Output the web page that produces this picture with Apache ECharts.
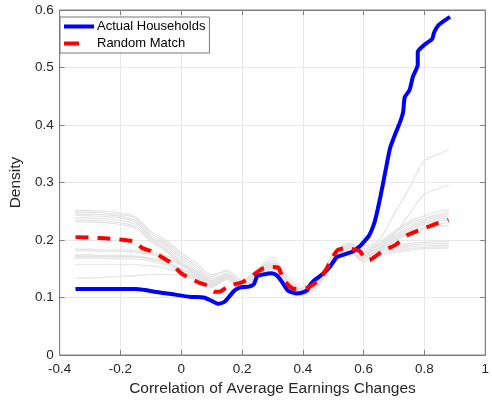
<!DOCTYPE html>
<html>
<head>
<meta charset="utf-8">
<script src="https://cdn.jsdelivr.net/npm/echarts@6/dist/echarts.min.js"></script>
<style>html,body{margin:0;padding:0;background:#fff;}#c{width:492px;height:403px;}</style>
</head>
<body>
<div id="c"></div>
<script>
const xTicks = [-0.4, -0.2, 0, 0.2, 0.4, 0.6, 0.8, 1];
const yTicks = [0, 0.1, 0.2, 0.3, 0.4, 0.5, 0.6];

const actualHouseholds = [[-0.348,0.115],[-0.25,0.115],[-0.15,0.115],[-0.12,0.113],[-0.086,0.110],[-0.033,0.106],[0.031,0.101],[0.074,0.100],[0.100,0.094],[0.122,0.089],[0.143,0.093],[0.160,0.103],[0.175,0.112],[0.191,0.117],[0.223,0.119],[0.239,0.123],[0.250,0.137],[0.270,0.140],[0.298,0.142],[0.315,0.138],[0.330,0.128],[0.351,0.112],[0.378,0.107],[0.400,0.109],[0.415,0.113],[0.420,0.119],[0.436,0.129],[0.468,0.142],[0.490,0.154],[0.511,0.170],[0.532,0.174],[0.564,0.180],[0.591,0.191],[0.606,0.200],[0.618,0.208],[0.630,0.222],[0.639,0.237],[0.655,0.275],[0.671,0.318],[0.687,0.360],[0.703,0.383],[0.719,0.404],[0.730,0.423],[0.735,0.448],[0.751,0.461],[0.762,0.484],[0.778,0.505],[0.778,0.527],[0.799,0.539],[0.826,0.550],[0.831,0.560],[0.847,0.574],[0.884,0.588]];

const randomMatch = [[-0.348,0.205],[-0.25,0.203],[-0.204,0.201],[-0.150,0.197],[-0.129,0.186],[-0.100,0.181],[-0.076,0.174],[-0.038,0.162],[0.000,0.142],[0.031,0.133],[0.063,0.125],[0.084,0.121],[0.111,0.110],[0.125,0.110],[0.150,0.118],[0.170,0.122],[0.202,0.127],[0.230,0.136],[0.244,0.142],[0.271,0.151],[0.300,0.153],[0.319,0.152],[0.335,0.133],[0.355,0.120],[0.372,0.115],[0.415,0.117],[0.440,0.125],[0.458,0.133],[0.479,0.151],[0.500,0.172],[0.516,0.183],[0.543,0.186],[0.586,0.181],[0.600,0.172],[0.618,0.165],[0.640,0.172],[0.660,0.180],[0.703,0.191],[0.746,0.209],[0.788,0.218],[0.842,0.229],[0.879,0.235]];

const grayX = [-0.35,-0.3,-0.25,-0.2,-0.15,-0.1,-0.05,0,0.05,0.1,0.15,0.2,0.25,0.3,0.35,0.4,0.45,0.5,0.55,0.6,0.65,0.7,0.75,0.8,0.85,0.88];
const grayA1 = [0.252,0.251,0.250,0.247,0.240,0.215,0.200,0.178,0.160,0.140,0.145,0.130,0.150,0.170,0.135,0.118,0.135,0.175,0.195,0.185,0.195,0.215,0.232,0.242,0.250,0.252];
const grayA2 = [0.249,0.248,0.247,0.244,0.238,0.212,0.196,0.174,0.155,0.136,0.148,0.128,0.148,0.165,0.130,0.115,0.132,0.172,0.192,0.182,0.192,0.212,0.228,0.238,0.245,0.248];
const grayA3 = [0.246,0.245,0.244,0.241,0.234,0.208,0.193,0.170,0.152,0.133,0.142,0.125,0.145,0.160,0.128,0.112,0.128,0.168,0.190,0.180,0.190,0.208,0.224,0.235,0.242,0.245];
const grayA4 = [0.243,0.242,0.241,0.238,0.231,0.205,0.190,0.166,0.148,0.130,0.140,0.122,0.142,0.158,0.125,0.110,0.126,0.165,0.187,0.177,0.187,0.205,0.221,0.232,0.239,0.242];
const grayA5 = [0.239,0.238,0.237,0.234,0.227,0.203,0.186,0.162,0.145,0.128,0.137,0.120,0.140,0.156,0.122,0.108,0.124,0.162,0.185,0.175,0.185,0.203,0.218,0.229,0.236,0.238];
const grayA6 = [0.235,0.234,0.233,0.230,0.223,0.200,0.183,0.159,0.142,0.126,0.134,0.118,0.138,0.152,0.120,0.106,0.122,0.160,0.183,0.172,0.182,0.200,0.215,0.226,0.233,0.235];
const grayA7 = [0.232,0.231,0.230,0.227,0.220,0.197,0.180,0.156,0.140,0.124,0.132,0.116,0.136,0.150,0.118,0.104,0.120,0.158,0.180,0.170,0.180,0.197,0.212,0.222,0.228,0.230];
const grayB1 = [0.184,0.184,0.183,0.183,0.182,0.178,0.172,0.160,0.145,0.128,0.140,0.124,0.146,0.162,0.128,0.114,0.130,0.170,0.192,0.176,0.185,0.190,0.194,0.196,0.197,0.197];
const grayB2 = [0.181,0.181,0.180,0.180,0.179,0.175,0.168,0.156,0.142,0.125,0.138,0.121,0.143,0.158,0.125,0.111,0.128,0.167,0.189,0.172,0.182,0.187,0.191,0.193,0.194,0.194];
const grayB3 = [0.174,0.174,0.173,0.173,0.172,0.168,0.162,0.150,0.138,0.122,0.135,0.119,0.140,0.156,0.122,0.109,0.126,0.165,0.186,0.168,0.179,0.184,0.188,0.190,0.191,0.191];
const grayB4 = [0.171,0.171,0.171,0.170,0.170,0.166,0.160,0.147,0.135,0.120,0.133,0.117,0.138,0.153,0.120,0.107,0.124,0.162,0.183,0.165,0.176,0.181,0.185,0.187,0.188,0.188];
const grayB5 = [0.168,0.168,0.168,0.167,0.167,0.163,0.157,0.145,0.133,0.118,0.131,0.115,0.136,0.150,0.118,0.105,0.122,0.160,0.180,0.162,0.173,0.178,0.182,0.185,0.186,0.186];
const grayH1 = [0.172,0.172,0.172,0.171,0.171,0.167,0.161,0.149,0.137,0.121,0.136,0.120,0.141,0.158,0.124,0.110,0.128,0.170,0.192,0.190,0.200,0.245,0.290,0.338,0.350,0.357];
const grayH2 = [0.157,0.157,0.157,0.157,0.157,0.155,0.151,0.142,0.132,0.118,0.134,0.118,0.140,0.156,0.122,0.108,0.126,0.166,0.188,0.180,0.185,0.210,0.245,0.280,0.290,0.296];
const grayC1 = [0.133,0.134,0.135,0.137,0.138,0.140,0.140,0.138,0.130,0.118,0.132,0.116,0.138,0.155,0.120,0.106,0.124,0.163,0.185,0.170,0.180,0.198,0.212,0.220,0.224,0.225];

const grayLines = [grayA1,grayA2,grayA3,grayA4,grayA5,grayA6,grayA7,grayB1,grayB2,grayB3,grayB4,grayB5,grayH1,grayH2,grayC1];

const font = '"Liberation Sans", Arial, Helvetica, sans-serif';
const chart = echarts.init(document.getElementById('c'), null, {renderer: 'canvas'});

const series = grayLines.map((ys, i) => ({
  name: 'sim' + i,
  type: 'line',
  xAxisIndex: 0, yAxisIndex: 0,
  data: grayX.map((x, j) => [x, ys[j]]),
  showSymbol: false, symbol: 'none',
  smooth: 0.3,
  silent: true,
  lineStyle: {color: '#e3e3e3', width: 1.2},
  z: 2
}));
series.push({
  name: 'Actual Households', type: 'line', data: actualHouseholds,
  symbol: 'none', smooth: 0.2,
  lineStyle: {color: '#0000ff', width: 4}, itemStyle: {color: '#0000ff'}, z: 3
});
series.push({
  name: 'Random Match', type: 'line', data: randomMatch,
  symbol: 'none', smooth: 0.2,
  lineStyle: {color: '#ff0000', width: 4, type: [13, 9]}, itemStyle: {color: '#ff0000'}, z: 4
});

const axisCol = '#808080';
chart.setOption({
  animation: false,
  backgroundColor: '#fff',
  grid: {left: 52, right: 3, top: 10, bottom: 48, show: true, borderColor: axisCol, borderWidth: 1},
  legend: {
    data: [
      {name: 'Actual Households', icon: 'path://M0,0L30,0L30,4L0,4Z', itemStyle: {color: '#0000ff'}},
      {name: 'Random Match', icon: 'path://M0,0L15,0L15,4L0,4Z M30,0L30,4', itemStyle: {color: '#ff0000'}}
    ],
    orient: 'vertical', left: 60, top: 17,
    itemWidth: 30, itemHeight: 4, itemGap: 4,
    padding: [3, 4, 3, 4],
    backgroundColor: '#fff', borderColor: '#777', borderWidth: 1, borderRadius: 0,
    textStyle: {fontFamily: font, fontSize: 13, color: '#000', padding: [0, 0, 0, -2], lineHeight: 11},
    selectedMode: false
  },
  xAxis: [{
    type: 'value', min: -0.4, max: 1, interval: 0.2,
    name: 'Correlation of Average Earnings Changes', nameLocation: 'middle', nameGap: 21,
    nameTextStyle: {fontFamily: font, fontSize: 15.5, color: '#262626'},
    axisLine: {show: true, lineStyle: {color: axisCol}},
    axisTick: {show: true, inside: true, length: 5, lineStyle: {color: axisCol}},
    axisLabel: {fontFamily: font, fontSize: 13.5, color: '#262626', margin: 7,
      formatter: v => { const t = xTicks.find(k => Math.abs(k - v) < 1e-9); return t === undefined ? '' : String(t); }},
    splitLine: {show: true, lineStyle: {color: '#e8e8e8'}}
  }, {
    type: 'value', min: -0.4, max: 1, interval: 0.2, position: 'top',
    axisLine: {show: true, onZero: false, lineStyle: {color: axisCol}},
    axisTick: {show: true, inside: true, length: 5, lineStyle: {color: axisCol}},
    axisLabel: {show: false}, splitLine: {show: false}
  }],
  yAxis: [{
    type: 'value', min: 0, max: 0.6, interval: 0.1,
    name: 'Density', nameLocation: 'middle', nameGap: 32,
    nameTextStyle: {fontFamily: font, fontSize: 15.5, color: '#262626'},
    axisLine: {show: true, onZero: false, lineStyle: {color: axisCol}},
    axisTick: {show: true, inside: true, length: 5, lineStyle: {color: axisCol}},
    axisLabel: {fontFamily: font, fontSize: 13.5, color: '#262626', margin: 6,
      formatter: v => { const t = yTicks.find(k => Math.abs(k - v) < 1e-9); return t === undefined ? '' : String(t); }},
    splitLine: {show: true, lineStyle: {color: '#e8e8e8'}}
  }, {
    type: 'value', min: 0, max: 0.6, interval: 0.1, position: 'right',
    axisLine: {show: true, onZero: false, lineStyle: {color: axisCol}},
    axisTick: {show: true, inside: true, length: 5, lineStyle: {color: axisCol}},
    axisLabel: {show: false}, splitLine: {show: false}
  }],
  series: series
});
</script>
</body>
</html>
